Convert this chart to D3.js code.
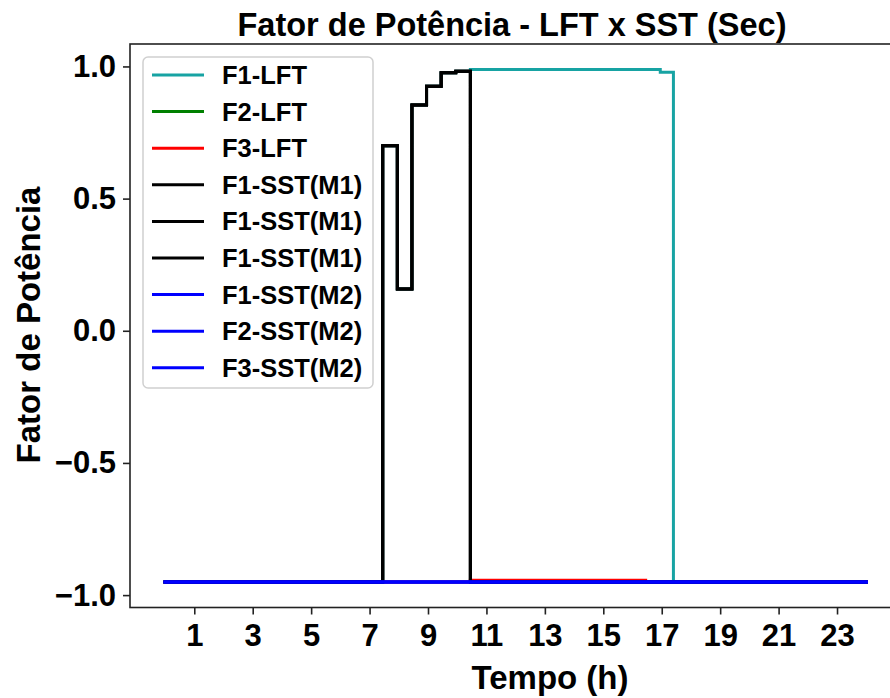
<!DOCTYPE html>
<html>
<head>
<meta charset="utf-8">
<script src="https://cdn.jsdelivr.net/npm/d3@7"></script>
<style>
  html, body { margin: 0; padding: 0; background: #fff; }
  svg { display: block; }
  text { font-family: "Liberation Sans", Arial, sans-serif; font-weight: bold; fill: #000; }
</style>
</head>
<body>
<svg id="chart" width="890" height="698"></svg>
<script>
// ---- data ----
const hours = [0, 7.45, 7.95, 8.45, 8.95, 9.45, 9.95, 10.45, 16.45, 16.95, 17.4, 24];
const F1_LFT      = [-0.95, 0.70, 0.158, 0.854, 0.925, 0.976, 0.982, 0.988, 0.988, 0.978, -0.95, -0.95];
const F2_LFT      = [-0.95, -0.95, -0.95, -0.95, -0.95, -0.95, -0.95, -0.95, -0.95, -0.95, -0.95, -0.95];
const F3_LFT      = [-0.95, -0.95, -0.95, -0.95, -0.95, -0.95, -0.95, -0.944, -0.95, -0.95, -0.95, -0.95];
const F1_SST_M1   = [-0.95, 0.70, 0.158, 0.854, 0.925, 0.976, 0.982, -0.95, -0.95, -0.95, -0.95, -0.95];
const F1_SST_M2   = [-0.95, -0.95, -0.95, -0.95, -0.95, -0.95, -0.95, -0.95, -0.95, -0.95, -0.95, -0.95];
const F2_SST_M2   = [-0.95, -0.95, -0.95, -0.95, -0.95, -0.95, -0.95, -0.95, -0.95, -0.95, -0.95, -0.95];
const F3_SST_M2   = [-0.95, -0.95, -0.95, -0.95, -0.95, -0.95, -0.95, -0.95, -0.95, -0.95, -0.95, -0.95];

const seriesNames  = ["F1-LFT", "F2-LFT", "F3-LFT", "F1-SST(M1)", "F1-SST(M1)", "F1-SST(M1)", "F1-SST(M2)", "F2-SST(M2)", "F3-SST(M2)"];
const seriesValues = [F1_LFT, F2_LFT, F3_LFT, F1_SST_M1, F1_SST_M1, F1_SST_M1, F1_SST_M2, F2_SST_M2, F3_SST_M2];
const seriesColors = ["#17a3a3", "#008000", "#ff0000", "#000000", "#000000", "#000000", "#0000ff", "#0000ff", "#0000ff"];

const xTicks = [1, 3, 5, 7, 9, 11, 13, 15, 17, 19, 21, 23];
const yTicks = [-1.0, -0.5, 0.0, 0.5, 1.0];

const titleText = "Fator de Potência - LFT x SST (Sec)";
const xLabel = "Tempo (h)";
const yLabel = "Fator de Potência";

// ---- layout ----
(function () {
const svg = d3.select("#chart");
const mLeft = 130, mRight = 968.5, mTop = 44, mBottom = 607.5;

const x = d3.scaleLinear().domain([-1.2, 27.5]).range([mLeft, mRight]);
const allVals = seriesValues.flat();
const yMin = d3.min(allVals), yMax = d3.max(allVals);
const pad = (yMax - yMin) * 0.05;
const y = d3.scaleLinear().domain([yMin - pad, yMax + pad]).range([mBottom, mTop]);

const line = d3.line()
  .x((d, i) => x(hours[i]))
  .y(d => y(d))
  .curve(d3.curveStepAfter);

const plot = svg.append("g");
seriesValues.forEach((vals, k) => {
  plot.append("path")
    .datum(vals)
    .attr("d", line)
    .attr("fill", "none")
    .attr("stroke", seriesColors[k])
    .attr("stroke-width", 3)
    .attr("stroke-linecap", "square")
    .attr("stroke-linejoin", "miter");
});

svg.append("rect")
  .attr("x", mLeft).attr("y", mTop)
  .attr("width", mRight - mLeft).attr("height", mBottom - mTop)
  .attr("fill", "none").attr("stroke", "#222").attr("stroke-width", 1.6);

const fmt = d => (d < 0 ? "\u2212" : "") + Math.abs(d).toFixed(1);
const xAxis = svg.append("g")
  .attr("transform", `translate(0,${mBottom})`)
  .call(d3.axisBottom(x).tickValues(xTicks).tickSize(7).tickPadding(9).tickFormat(d3.format("d")));
const yAxis = svg.append("g")
  .attr("transform", `translate(${mLeft},0)`)
  .call(d3.axisLeft(y).tickValues(yTicks).tickSize(7).tickPadding(7).tickFormat(fmt));

[xAxis, yAxis].forEach(g => {
  g.select(".domain").remove();
  g.selectAll(".tick line").attr("stroke", "#222").attr("stroke-width", 1.6);
  g.selectAll(".tick text")
    .attr("font-family", "Liberation Sans, Arial, sans-serif")
    .attr("font-weight", "bold")
    .attr("font-size", 31)
    .attr("fill", "#000");
});

svg.append("text")
  .attr("x", 512).attr("y", 36)
  .attr("text-anchor", "middle")
  .attr("font-size", 32.5)
  .text(titleText);

svg.append("text")
  .attr("x", 550).attr("y", 689)
  .attr("text-anchor", "middle")
  .attr("font-size", 33)
  .text(xLabel);

svg.append("text")
  .attr("transform", `translate(40,325) rotate(-90)`)
  .attr("text-anchor", "middle")
  .attr("font-size", 33)
  .text(yLabel);

const lg = svg.append("g");
const lgX = 143, lgY = 57, lgW = 230, lgH = 331, rowH = 36.6;
lg.append("rect")
  .attr("x", lgX).attr("y", lgY).attr("width", lgW).attr("height", lgH)
  .attr("rx", 5).attr("ry", 5)
  .attr("fill", "#fff").attr("fill-opacity", 0.85)
  .attr("stroke", "#d0d0d0").attr("stroke-width", 1.5);
seriesNames.forEach((name, k) => {
  const cy = lgY + 18 + k * rowH;
  lg.append("line")
    .attr("x1", 152).attr("x2", 204).attr("y1", cy).attr("y2", cy)
    .attr("stroke", seriesColors[k]).attr("stroke-width", 3);
  lg.append("text")
    .attr("x", 222).attr("y", cy + 9)
    .attr("font-size", 25.5)
    .text(name);
});
})();
</script>
</body>
</html>
